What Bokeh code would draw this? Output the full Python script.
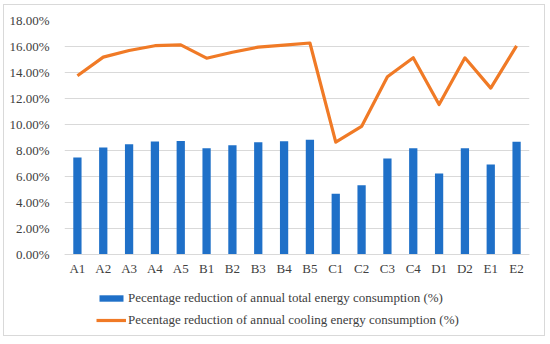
from bokeh.plotting import figure
from bokeh.models import (FactorRange, Range1d, FixedTicker, NumeralTickFormatter,
                          Legend, LegendItem)
from bokeh.embed import file_html
from bokeh.resources import INLINE

categories = ["A1", "A2", "A3", "A4", "A5", "B1", "B2", "B3", "B4", "B5",
              "C1", "C2", "C3", "C4", "D1", "D2", "E1", "E2"]
total_reduction = [0.0746, 0.0823, 0.0849, 0.0869, 0.0874, 0.0818, 0.0841, 0.0864, 0.0872, 0.0882,
                   0.0467, 0.0533, 0.0738, 0.0818, 0.0623, 0.0818, 0.0692, 0.0867]
cooling_reduction = [0.1375, 0.1518, 0.1569, 0.1606, 0.1613, 0.1510, 0.1556, 0.1595, 0.1610, 0.1627,
                     0.0864, 0.0985, 0.1367, 0.1513, 0.1154, 0.1513, 0.1280, 0.1605]
y_ticks = [0.0, 0.02, 0.04, 0.06, 0.08, 0.10, 0.12, 0.14, 0.16, 0.18]
label_total = "Pecentage reduction of annual total energy consumption (%)"
label_cooling = "Pecentage reduction of annual cooling energy consumption (%)"

FONT = "Liberation Serif"

# layout (pixels): the frame spans the canvas from TOP down to H - BOTTOM;
# the data band 0..18% occupies the upper DATA_H px, the rest holds axis labels + legend
W, H = 542, 332
TOP, BOTTOM = 15, 6
FRAME_H = H - TOP - BOTTOM
DATA_H = 234
y_max = y_ticks[-1]
y_min = -y_max * (FRAME_H - DATA_H) / DATA_H

p = figure(x_range=FactorRange(factors=categories, range_padding=0),
           y_range=Range1d(y_min, y_max),
           width=W, height=H, output_backend="svg", toolbar_location=None,
           min_border_left=60, min_border_right=17, min_border_top=TOP,
           min_border_bottom=BOTTOM)
p.styles = {"border": "1px solid #d9d9d9", "margin-left": "3px", "margin-top": "4px"}

bars = p.vbar(x=categories, top=total_reduction, width=0.32,
              fill_color="#1F70C8", line_color=None)
line = p.line(x=categories, y=cooling_reduction, line_color="#F07A26", line_width=3.2,
              line_join="round")

p.outline_line_color = None
p.xgrid.grid_line_color = None
p.ygrid.grid_line_color = "#d9d9d9"
p.ygrid.grid_line_width = 1

p.yaxis.ticker = FixedTicker(ticks=y_ticks)
p.yaxis.formatter = NumeralTickFormatter(format="0.00%")
p.yaxis.axis_line_color = None
p.yaxis.major_tick_line_color = None
p.yaxis.minor_tick_line_color = None
p.yaxis.major_label_standoff = 9
p.yaxis.major_label_text_font = FONT
p.yaxis.major_label_text_font_size = "13px"
p.yaxis.major_label_text_color = "#404040"

p.xaxis.fixed_location = 0
p.xaxis.axis_line_color = "#d9d9d9"
p.xaxis.major_tick_line_color = None
p.xaxis.minor_tick_line_color = None
p.xaxis.major_label_standoff = 0
p.xaxis.major_label_text_font = FONT
p.xaxis.major_label_text_font_size = "13px"
p.xaxis.major_label_text_color = "#404040"

legend = Legend(items=[LegendItem(label=label_total, renderers=[bars]),
                       LegendItem(label=label_cooling, renderers=[line])],
                location=(32, 1), orientation="vertical",
                padding=0, margin=0, spacing=2,
                glyph_width=30, glyph_height=8, label_height=20,
                label_standoff=2,
                label_text_font=FONT, label_text_font_size="13px",
                label_text_color="#404040",
                border_line_color=None, background_fill_alpha=0)
p.add_layout(legend, "center")

open("out.html", "w").write(file_html(p, INLINE))
